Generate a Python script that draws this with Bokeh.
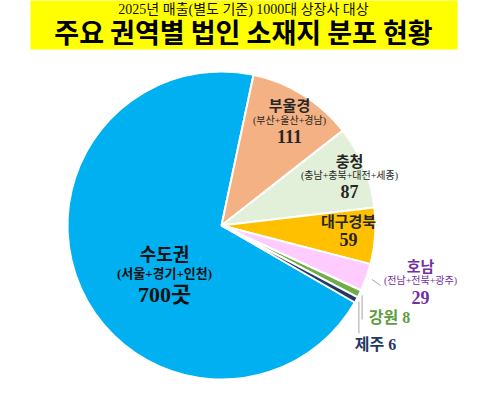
import math
from bokeh.plotting import figure
from bokeh.models import Range1d
from bokeh.core.properties import value
from bokeh.embed import file_html
from bokeh.resources import INLINE

# ---------------- data ----------------
regions = ["수도권", "부울경", "충청", "대구경북", "호남", "강원", "제주"]
counts = [700, 111, 87, 59, 29, 8, 6]
members = ["서울+경기+인천", "부산+울산+경남", "충남+충북+대전+세종", "", "전남+전북+광주", "", ""]
title_line1 = "2025년 매출(별도 기준) 1000대 상장사 대상"
title_line2 = "주요 권역별 법인 소재지 분포 현황"
unit = "곳"

# ---------------- style / layout ----------------
colors = ["#00B0F0", "#F4B183", "#E2F0D9", "#FFC000", "#FFCCFF", "#70AD47", "#203864"]
label_colors = ["#111111", "#262626", "#262626", "#262626", "#7030A0", "#5E9E3E", "#1F3864"]
IMG_H = 406
W, H = 483, 390
CX, CY, R = 229, 233, 154          # pie centre / radius in image pixels
FIRST_ANGLE = 120.0                # degrees clockwise from 12 o'clock

MIX = value("Liberation Serif, Noto Sans CJK KR")
KR = value("Noto Sans CJK KR")


def iy(y):
    """image-pixel y (downwards) -> data y (upwards)"""
    return IMG_H - y


p = figure(width=W, height=H, x_range=Range1d(8, 8 + W), y_range=Range1d(IMG_H - 8 - H, IMG_H - 8),
           output_backend="svg", toolbar_location=None, min_border=0,
           x_axis_location=None, y_axis_location=None)
p.grid.visible = False
p.outline_line_color = None
p.background_fill_color = "white"
p.border_fill_color = "white"

# ---------------- title box ----------------
p.quad(left=38, right=465, top=iy(0), bottom=iy(57), fill_color="#FFFF00", line_color=None)
p.text(x=[251], y=[iy(17)], text=[title_line1], text_font=MIX, text_font_size="14px",
       text_color="#111111", text_align="center", text_baseline="middle")
p.text(x=[251], y=[iy(39)], text=[title_line2], text_font=KR, text_font_size="27px",
       text_font_style="bold", text_color="#000000", text_align="center", text_baseline="middle")

# ---------------- pie ----------------
total = float(sum(counts))
cw_start, cw_end = [], []
acc = FIRST_ANGLE
for c in counts:
    cw_start.append(acc)
    acc += c / total * 360.0
    cw_end.append(acc)
start = [math.radians(90.0 - a) for a in cw_start]
end = [math.radians(90.0 - a) for a in cw_end]

p.wedge(x=[CX] * len(counts), y=[iy(CY)] * len(counts), radius=R,
        start_angle=start, end_angle=end, direction="clock",
        fill_color=colors, line_color="white", line_width=2)

# ---------------- labels ----------------
big = {
    "수도권": dict(x=172, y=(260, 281, 302), fs=("18px", "13px", "22px"), mb="bold"),
    "부울경": dict(x=297, y=(112, 128, 144), fs=("15px", "10px", "18px"), mb="normal"),
    "충청": dict(x=357, y=(168, 183, 199), fs=("15px", "10px", "18px"), mb="normal"),
    "대구경북": dict(x=356, y=(228, None, 247), fs=("15px", "10px", "18px"), mb="normal"),
    "호남": dict(x=428, y=(273, 288, 305), fs=("15px", "10px", "18px"), mb="normal"),
}
small = {
    "강원": dict(x=397, y=325, ly=327),
    "제주": dict(x=383, y=352, ly=341),
}

for i, name in enumerate(regions):
    col = label_colors[i]
    if name in big:
        L = big[name]
        yn, ym, yc = L["y"]
        fn, fm, fc = L["fs"]
        p.text(x=[L["x"]], y=[iy(yn)], text=[name], text_font=KR, text_font_size=fn,
               text_font_style="bold", text_color=col, text_align="center", text_baseline="middle")
        if members[i] and ym is not None:
            p.text(x=[L["x"]], y=[iy(ym)], text=["(" + members[i] + ")"], text_font=MIX,
                   text_font_size=fm, text_font_style=L["mb"], text_color=col,
                   text_align="center", text_baseline="middle")
        ctext = str(counts[i]) + (unit if i == 0 else "")
        p.text(x=[L["x"]], y=[iy(yc)], text=[ctext], text_font=MIX, text_font_size=fc,
               text_font_style="bold", text_color=col, text_align="center", text_baseline="middle")
    else:
        L = small[name]
        p.text(x=[L["x"]], y=[iy(L["y"])], text=[f"{name} {counts[i]}"], text_font=MIX,
               text_font_size="16px", text_font_style="bold", text_color=col,
               text_align="center", text_baseline="middle")

# ---------------- leader lines ----------------
xs, ys = [], []
for i, name in enumerate(regions):
    mid = math.radians((cw_start[i] + cw_end[i]) / 2.0)
    if name == "호남":
        r = R + 6
        x0, y0 = CX + r * math.sin(mid), CY - r * math.cos(mid)
        xs.append([x0, 388]); ys.append([iy(y0), iy(293)])
    elif name in small:
        r = R + 3
        x0, y0 = CX + r * math.sin(mid), CY - r * math.cos(mid)
        xs.append([x0, x0]); ys.append([iy(y0), iy(small[name]["ly"])])
p.multi_line(xs=xs, ys=ys, line_color="#A6A6A6", line_width=1)

open("out.html", "w").write(file_html(p, INLINE))
